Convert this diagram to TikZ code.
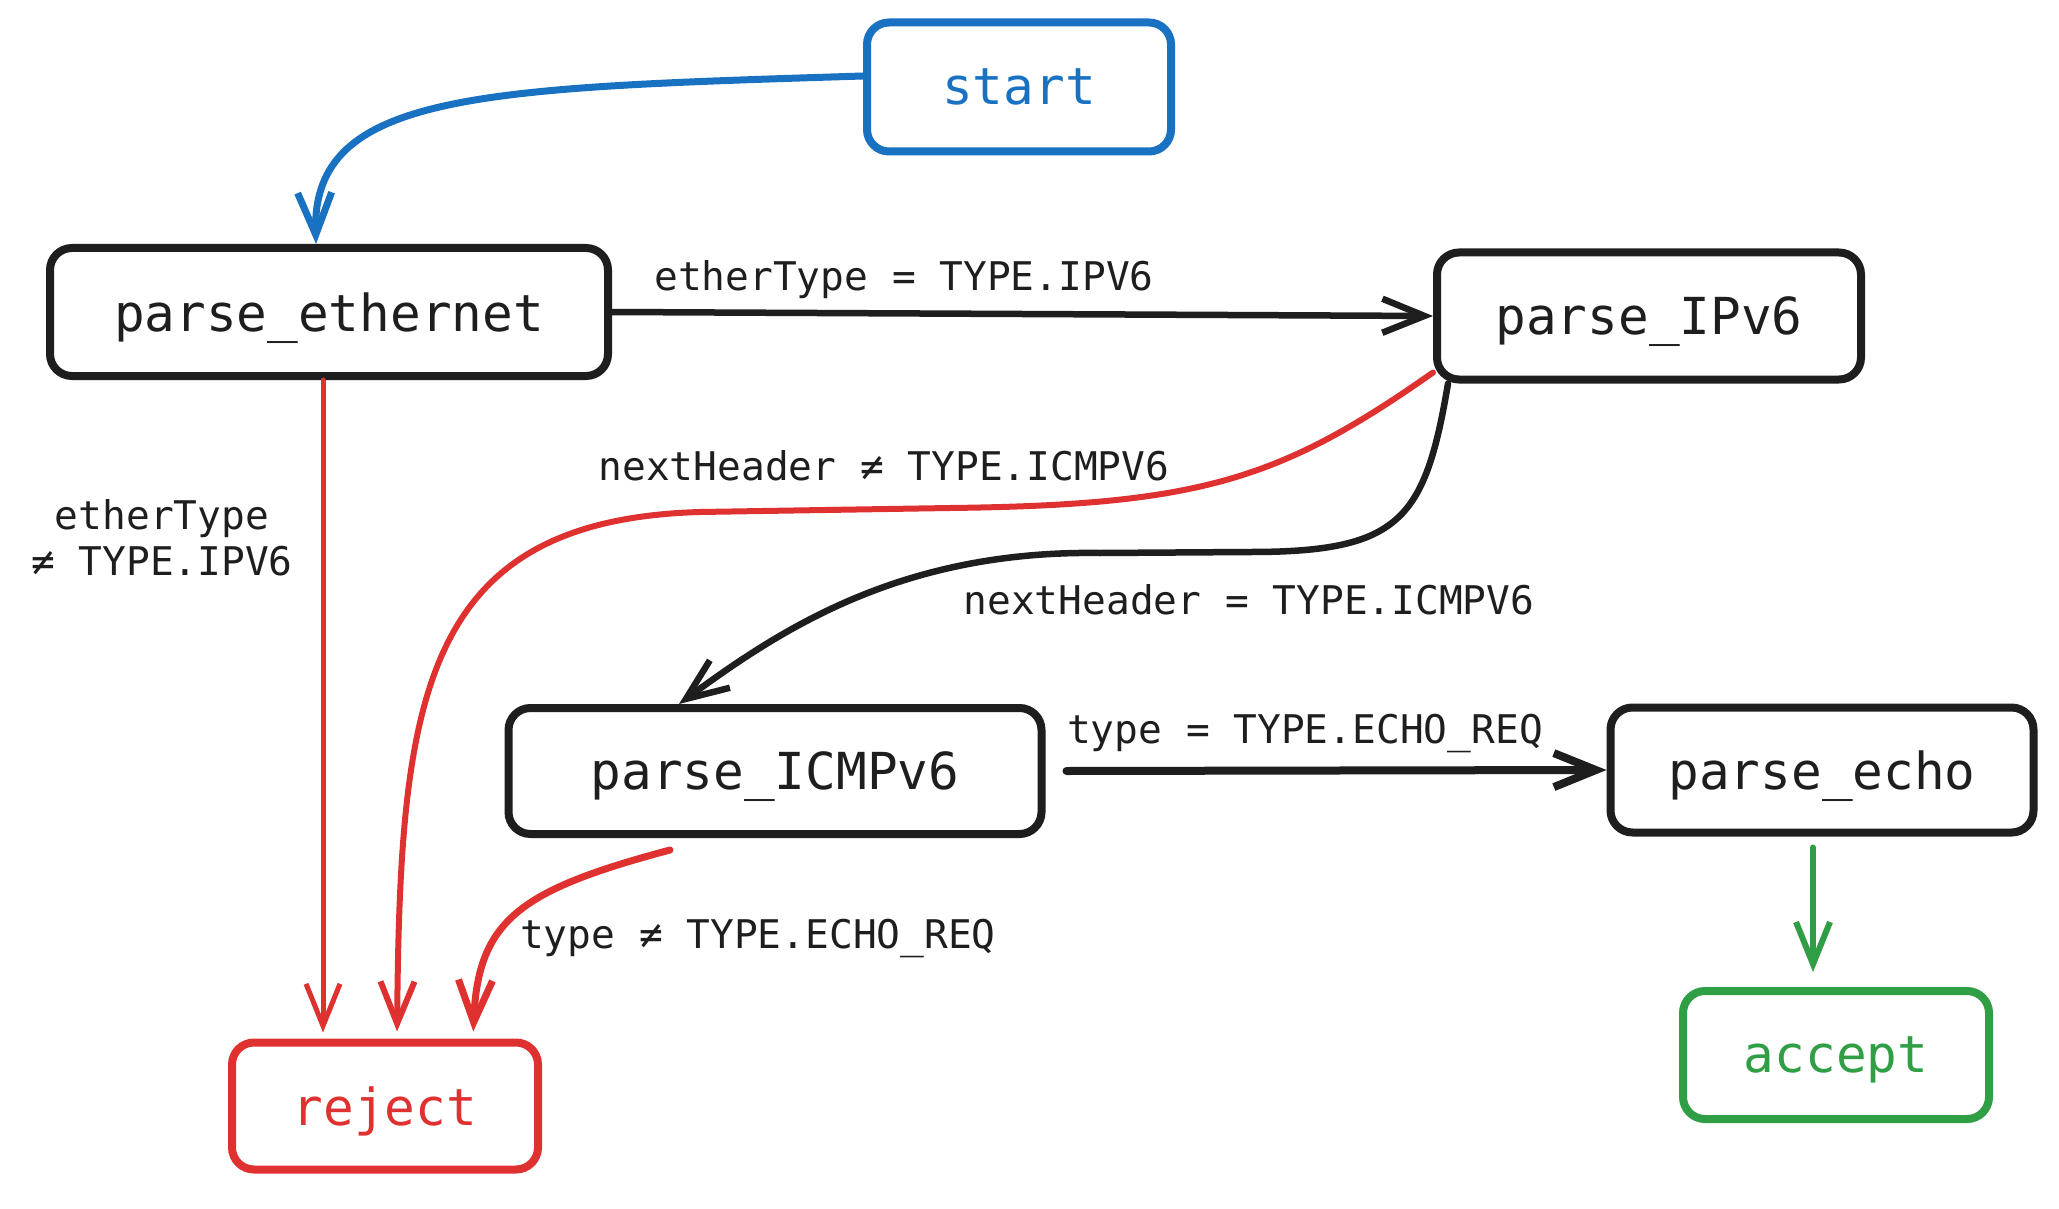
\documentclass[tikz,border=0pt]{standalone}
\usepackage{fontspec}
\setmainfont{DejaVu Sans Mono}
\usetikzlibrary{arrows.meta}
\definecolor{cblue}{HTML}{1971C2}
\definecolor{cred}{HTML}{E03131}
\definecolor{cgreen}{HTML}{2F9E44}
\definecolor{cblack}{HTML}{1E1E1E}
\begin{document}
\begin{tikzpicture}[x=1pt,y=-1pt,
  box/.style={draw=cblack, line width=8pt, rounded corners=22pt, inner sep=0pt,
    text depth=0pt, font=\fontsize{51}{60}\selectfont, text=cblack},
  lbl/.style={font=\fontsize{39.5}{46}\selectfont, text=cblack, inner sep=0pt, align=center},
  conn/.style={line width=6.5pt, line cap=round, line join=round,
    -{Straight Barb[length=42pt,width=34pt]}},
]
\useasboundingbox (0,0) rectangle (2059,1209);
\fill[white] (0,0) rectangle (2059,1209);

% nodes
\node[box, draw=cblue, text=cblue, minimum width=304pt, minimum height=129pt] (start) at (1019,87) {start};
\node[box, minimum width=558pt, minimum height=128pt] (pe) at (329,312) {parse\_ethernet};
\node[box, minimum width=424pt, minimum height=127pt] (pi) at (1649,316) {parse\_IPv6};
\node[box, minimum width=533pt, minimum height=126pt] (pc) at (775,771) {parse\_ICMPv6};
\node[box, minimum width=423pt, minimum height=125pt] (pecho) at (1822,770) {parse\_echo};
\node[box, draw=cred, text=cred, minimum width=306pt, minimum height=127pt] (rj) at (385,1106) {reject};
\node[box, draw=cgreen, text=cgreen, minimum width=306pt, minimum height=128pt] (ac) at (1836,1055) {accept};

% labels
\node[lbl] (l1) at (904,280) {etherType = TYPE.IPV6};
\node[lbl] (l2) at (162,538) {etherType\\≠ TYPE.IPV6};
\node[lbl] (l3) at (884,466) {nextHeader ≠ TYPE.ICMPV6};
\node[lbl] (l4) at (1249,600) {nextHeader = TYPE.ICMPV6};
\node[lbl] (l5) at (1305,733) {type = TYPE.ECHO\_REQ};
\node[lbl] (l6) at (758,938) {type ≠ TYPE.ECHO\_REQ};

% connectors
\draw[conn, draw=cblue, line width=7pt] ([yshift=11pt]start.west)
  .. controls (480,88) and (312,92) .. ([xshift=-13pt]pe.north);
\draw[conn, draw=cblack] (pe.east) -- (pi.west);
\draw[conn, draw=cred, line width=5pt, shorten >=6pt] ([xshift=-6pt]pe.south) -- ([xshift=-6pt]pe.south |- rj.north);
\draw[conn, draw=cred, line width=6pt, shorten >=7pt] ([yshift=11pt]pi.south west)
  .. controls (1280,480) and (1200,505) .. (950,508) -- (700,512)
  .. controls (420,520) and (400,700) .. ([xshift=12pt]rj.north);
\draw[conn, draw=cblack] ([xshift=15pt]pi.south west)
  .. controls (1425,520) and (1400,552) .. (1250,552) -- (1100,553)
  .. controls (900,550) and (780,630) .. ([xshift=-96pt]pc.north);
\draw[conn, draw=cblack, line width=8pt] ([xshift=21pt]pc.east) -- (pecho.west);
\draw[conn, draw=cred, line width=7pt, shorten >=7pt] ([xshift=-105pt,yshift=-12pt]pc.south)
  .. controls (520,890) and (478,920) .. ([xshift=88pt]rj.north);
\draw[conn, draw=cgreen, line width=6pt, shorten >=15pt] ([xshift=-9pt,yshift=-11pt]pecho.south) -- ([xshift=-9pt]pecho.south |- ac.north);
\end{tikzpicture}
\end{document}
